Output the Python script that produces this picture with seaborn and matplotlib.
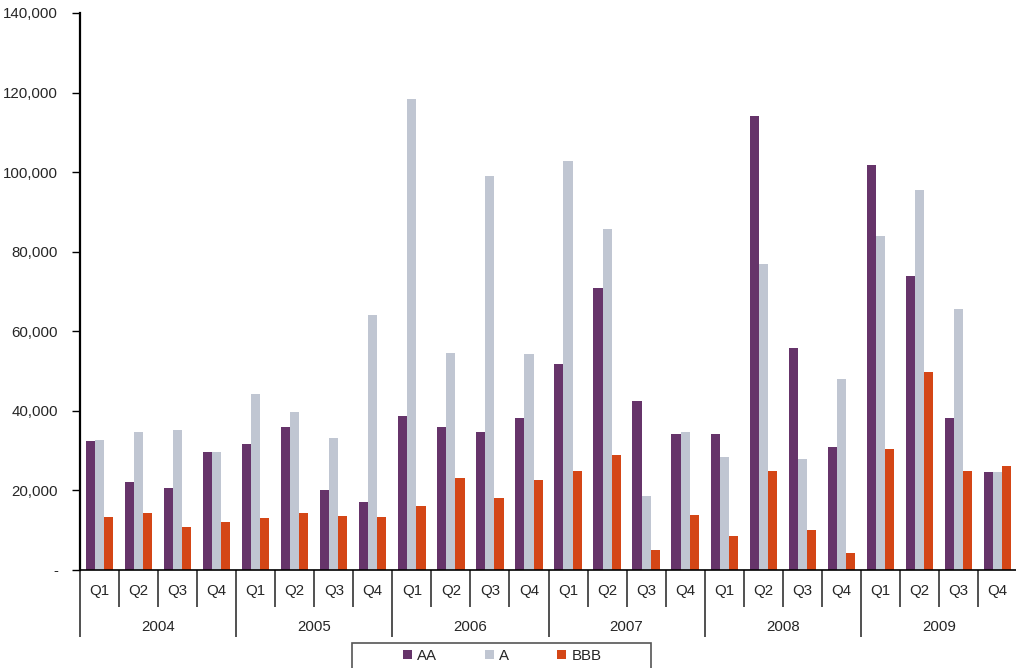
import matplotlib
matplotlib.use("Agg")
import matplotlib.pyplot as plt
from matplotlib.patches import Rectangle
from matplotlib.ticker import FuncFormatter
import pandas as pd
import seaborn as sns

years = ['2004', '2005', '2006', '2007', '2008', '2009']
quarters = ['Q1', 'Q2', 'Q3', 'Q4']

# values, quarter by quarter
aa = [32300, 22000, 20600, 29700,
      31600, 35900, 20100, 17100,
      38800, 35900, 34800, 38300,
      51800, 70800, 42500, 34200,
      34200, 114000, 55900, 31000,
      101700, 74000, 38200, 24700]
a = [32600, 34700, 35200, 29700,
     44300, 39600, 33200, 64100,
     118500, 54600, 99000, 54300,
     102700, 85600, 18600, 34700,
     28300, 77000, 27800, 48100,
     84000, 95500, 65600, 24700]
bbb = [13300, 14400, 10900, 12000,
       13100, 14400, 13600, 13300,
       16200, 23000, 18100, 22700,
       25000, 28800, 5000, 13800,
       8500, 25000, 10100, 4200,
       30500, 49800, 25000, 26100]

ratings = ['AA', 'A', 'BBB']
colors = ['#66346a', '#c0c6d2', '#d44616']

periods = [y + ' ' + q for y in years for q in quarters]
df = pd.DataFrame({'period': periods * 3,
                   'rating': ['AA'] * 24 + ['A'] * 24 + ['BBB'] * 24,
                   'value': aa + a + bbb})

sns.set_style('white')
plt.rcParams['font.family'] = ['Liberation Sans', 'DejaVu Sans']
fs = 10.8

fig = plt.figure(figsize=(10.16, 6.68), dpi=100)
ax = fig.add_axes([80 / 1016, 1 - 570 / 668, 937 / 1016, 557 / 668])

sns.barplot(data=df, x='period', y='value', hue='rating', order=periods,
            hue_order=ratings, palette=colors, saturation=1, width=0.7,
            linewidth=0, ax=ax)
handles, labels = ax.get_legend_handles_labels()
ax.get_legend().remove()

ax.set_ylim(0, 140000)
ax.set_yticks(range(0, 140001, 20000))
ax.yaxis.set_major_formatter(FuncFormatter(lambda v, p: '-' if v == 0 else f'{v:,.0f}'))
ax.set_xlim(-0.5, 23.5)
ax.set_xticks([])
ax.set_xlabel('')
ax.set_ylabel('')
for s in ['top', 'right']:
    ax.spines[s].set_visible(False)
ax.spines['left'].set_color('black')
ax.spines['left'].set_linewidth(1.6)
ax.spines['bottom'].set_color('black')
ax.spines['bottom'].set_linewidth(1.2)
ax.tick_params(axis='y', left=True, length=6, width=1, color='black',
               labelsize=fs, pad=10)

# two level category axis
tr = ax.get_xaxis_transform()
q_sep = [i - 0.5 for i in range(25) if i % 4 != 0]
y_sep = [i - 0.5 for i in range(0, 25, 4)]
ax.vlines(q_sep, -37 / 557, 0, transform=tr, clip_on=False, color='#333333', lw=1.2)
ax.vlines(y_sep, -67 / 557, 0, transform=tr, clip_on=False, color='#333333', lw=1.2)
for i, p in enumerate(periods):
    ax.text(i, -21 / 557, p.split()[1], transform=tr, ha='center', va='center', fontsize=fs)
for j, y in enumerate(years):
    ax.text(j * 4 + 1.5, -57 / 557, y, transform=tr, ha='center', va='center', fontsize=fs)

# legend
fig.patches.append(Rectangle((352 / 1016, -0.02), 299 / 1016, 0.02 + 25 / 668,
                             transform=fig.transFigure, fill=False,
                             edgecolor='#555555', lw=1.2))
fig.legend(handles, labels, loc='center', bbox_to_anchor=(502 / 1016, 12 / 668),
           ncol=3, frameon=False, fontsize=fs, handlelength=0.6, handleheight=0.6,
           handletextpad=0.35, columnspacing=3.2)

fig.savefig('out.png', dpi=100)
